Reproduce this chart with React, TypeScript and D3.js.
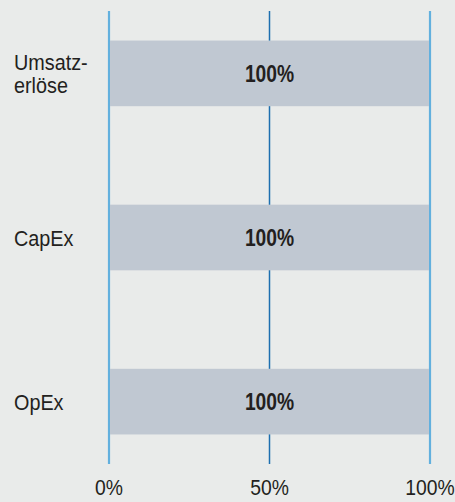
import React from "react";
import * as d3 from "d3";

// categories shown on the left, one bar each
const categories = ["Umsatzerlöse", "CapEx", "OpEx"];
// label lines as printed (hyphenated)
const categoryLines = [["Umsatz-", "erlöse"], ["CapEx"], ["OpEx"]];
// share of each category, in percent
const values = [100, 100, 100];
// x axis ticks
const ticks = [0, 50, 100];

// narrow-looking text: regular sans squeezed horizontally
function NarrowText(props: {
  x: number;
  y: number;
  anchor?: "start" | "middle" | "end";
  size: number;
  squeeze?: number;
  bold?: boolean;
  children: React.ReactNode;
}) {
  return (
    <g transform={`translate(${props.x},${props.y}) scale(${props.squeeze ?? 0.82},1)`}>
      <text
        textAnchor={props.anchor ?? "start"}
        fontSize={props.size}
        fontWeight={props.bold ? "bold" : "normal"}
        fill="#231f20"
      >
        {props.children}
      </text>
    </g>
  );
}

export default function App() {
  const width = 455;
  const height = 502;

  const x = d3.scaleLinear().domain([0, 100]).range([109, 430]);
  const y = d3
    .scaleBand<string>()
    .domain(categories)
    .range([11, 464])
    .paddingInner(0.6)
    .paddingOuter(0.18);

  const gridColor = (t: number) => (t === 50 ? "#1d6fb0" : "#62b0de");
  const gridWidth = (t: number) => (t === 50 ? 1.5 : 2.2);

  return (
    <svg
      width={width}
      height={height}
      style={{ position: "absolute", left: 0, top: 0, display: "block" }}
      fontFamily="'Liberation Sans', Arial, sans-serif"
    >
      <rect x={0} y={0} width={width} height={height} fill="#e9ebea" />

      {/* vertical grid lines */}
      {ticks.map((t) => (
        <line
          key={t}
          x1={x(t)}
          x2={x(t)}
          y1={y.range()[0]}
          y2={y.range()[1]}
          stroke={gridColor(t)}
          strokeWidth={gridWidth(t)}
        />
      ))}

      {/* bars */}
      {categories.map((c, i) => (
        <rect
          key={c}
          x={x(0) + 1}
          y={y(c)}
          width={x(values[i]) - x(0) - 2}
          height={y.bandwidth()}
          fill="#c0c8d2"
        />
      ))}

      {/* value labels */}
      {categories.map((c, i) => (
        <NarrowText
          key={c}
          x={x(values[i] / 2)}
          y={(y(c) ?? 0) + y.bandwidth() / 2 + 8.5}
          anchor="middle"
          size={23.5}
          bold
        >
          {values[i]}%
        </NarrowText>
      ))}

      {/* category labels */}
      {categories.map((c, i) => {
        const lines = categoryLines[i];
        const cy = (y(c) ?? 0) + y.bandwidth() / 2;
        const lh = 23;
        return (
          <g key={c}>
            {lines.map((l, j) => (
              <NarrowText
                key={j}
                x={14}
                y={cy + (j - (lines.length - 1) / 2) * lh + 8}
                size={22.5}
                squeeze={0.88}
              >
                {l}
              </NarrowText>
            ))}
          </g>
        );
      })}

      {/* x tick labels */}
      {ticks.map((t) => (
        <NarrowText key={t} x={x(t)} y={495} anchor="middle" size={22.5} squeeze={0.86}>
          {t}%
        </NarrowText>
      ))}
    </svg>
  );
}
